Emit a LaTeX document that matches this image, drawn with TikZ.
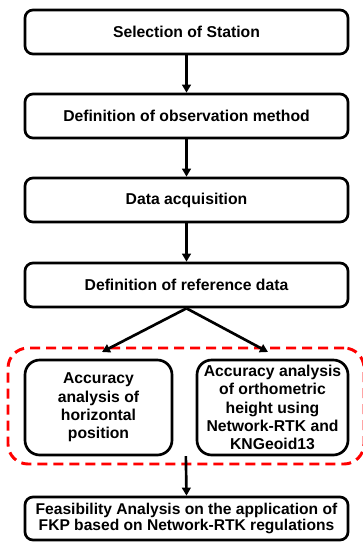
\documentclass[tikz,border=0pt]{standalone}
\usepackage{fontspec}
\setmainfont{Liberation Sans}
\usetikzlibrary{arrows.meta}

\tikzset{
    stepbox/.style={draw, line width=2pt, rounded corners=6pt, align=center,
        font=\bfseries\fontsize{11.8pt}{13.75pt}\selectfont, inner sep=2pt},
    subbox/.style={stepbox, rounded corners=11pt},
    flow/.style={line width=2pt, -{Triangle[length=6pt,width=6.5pt]}},
    group/.style={draw=red, line width=2.2pt, dash pattern=on 7.5pt off 4.5pt, rounded corners=15pt}
}

\begin{document}
\begin{tikzpicture}[x=0.75pt,y=-0.75pt]
        \useasboundingbox (0,0) rectangle (363,543);

        % Main steps
        \node[stepbox, minimum width=323*0.75pt, minimum height=44*0.75pt] (sel) at (186.5,32) {Selection of Station};
        \node[stepbox, minimum width=323*0.75pt, minimum height=44*0.75pt] (obs) at (186.5,116) {Definition of observation method};
        \node[stepbox, minimum width=323*0.75pt, minimum height=44*0.75pt] (acq) at (186.5,200) {Data acquisition};
        \node[stepbox, minimum width=323*0.75pt, minimum height=44*0.75pt] (ref) at (186.5,285) {Definition of reference data};

        % Accuracy analysis group
        \node[group, minimum width=356*0.75pt, minimum height=116*0.75pt] (grp) at (186,406) {};
        \node[subbox, minimum width=147*0.75pt, minimum height=95*0.75pt] (hor) at (98.5,407.5) {Accuracy\\analysis of\\horizontal\\position};
        \node[subbox, minimum width=151*0.75pt, minimum height=95*0.75pt] (ort) at (272.5,407.5) {Accuracy analysis\\of orthometric\\height using\\Network-RTK and\\KNGeoid13};
        \coordinate (hl) at (102,352);
        \coordinate (hr) at (268,352);

        % Final step
        \node[stepbox, minimum width=323*0.75pt, minimum height=43*0.75pt,
            font=\bfseries\fontsize{11.7pt}{12.5pt}\selectfont] (fkp) at (186.5,518.5) {Feasibility Analysis on the application of\\FKP based on Network-RTK regulations};

        % Arrows
        \draw[flow] (sel) -- (obs);
        \draw[flow] (obs) -- (acq);
        \draw[flow] (acq) -- (ref);
        \draw[flow] (ref.south) -- (hl);
        \draw[flow] (ref.south) -- (hr);
        \draw[flow, shorten <=-7pt] (grp.south) -- (fkp.north);
\end{tikzpicture}
\end{document}
